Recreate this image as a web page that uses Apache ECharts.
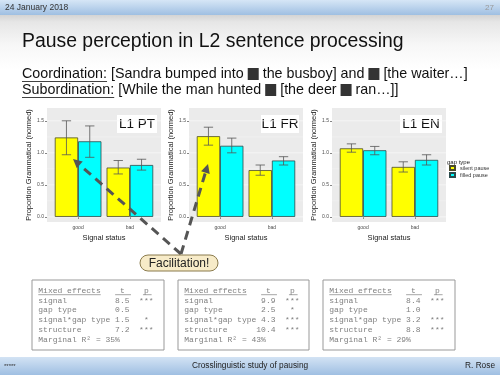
<!DOCTYPE html>
<html><head><meta charset="utf-8">
<script src="https://cdn.jsdelivr.net/npm/echarts@6/dist/echarts.min.js"></script>
<style>
html,body{margin:0;padding:0;}
#c{width:500px;height:375px;background:linear-gradient(to bottom,#d4d4d4 0px,#d4d4d4 15px,#e6e6e6 22px,#f7f7f7 45px,#ffffff 70px,#ffffff 100%);}
</style>
</head><body><div id="c"></div>
<script>
// ---- data ----
const categories = ['good', 'bad'];
const gapTypes = ['silent pause', 'filled pause'];
const panels = ['L1 PT', 'L1 FR', 'L1 EN'];
const silentMean = [[1.24, 0.77], [1.26, 0.73], [1.07, 0.78]];
const silentLow  = [[0.97, 0.67], [1.12, 0.65], [1.01, 0.70]];
const silentHigh = [[1.50, 0.88], [1.40, 0.81], [1.14, 0.86]];
const filledMean = [[1.18, 0.81], [1.11, 0.88], [1.04, 0.89]];
const filledLow  = [[0.93, 0.73], [1.00, 0.81], [0.97, 0.81]];
const filledHigh = [[1.42, 0.90], [1.23, 0.94], [1.10, 0.97]];
const yTicks = [0, 0.5, 1.0, 1.5];
const yTickLabels = ['0.0', '0.5', '1.0', '1.5'];
const yMinorTicks = [0.25, 0.75, 1.25];
const statsRows = ['signal', 'gap type', 'signal*gap type', 'structure'];
const statsT = [['8.5', '0.5', '1.5', '7.2'], ['9.9', '2.5', '4.3', '10.4'], ['8.4', '1.0', '3.2', '8.8']];
const statsP = [['***', '', '*', '***'], ['***', '*', '***', '***'], ['***', '', '***', '***']];
const marginalR2 = ['35%', '43%', '29%'];

// ---- layout ----
const SANS = "'Liberation Sans', Arial, sans-serif";
const MONO = "'Liberation Mono', 'DejaVu Sans Mono', monospace";
const bgLeft = [47, 189, 332];
const gTop = 108, gH = 114, bgW = 114, pad = 5.2;
const yMin = -0.08, yMax = 1.70;

const chart = echarts.init(document.getElementById('c'), null, {renderer: 'canvas'});

const grid = [], xAxis = [], yAxis = [], series = [];
for (let i = 0; i < 3; i++) {
  grid.push({left: bgLeft[i], top: gTop, width: bgW, height: gH, show: true, backgroundColor: '#ebebeb', borderWidth: 0});
  xAxis.push({gridIndex: i, type: 'value', min: 0, max: 1, show: false});
  yAxis.push({gridIndex: i, type: 'value', min: yMin, max: yMax,
    axisLine: {show: false},
    axisTick: {show: true, length: 2, customValues: yTicks, lineStyle: {color: '#333', width: 0.6}},
    axisLabel: {customValues: yTicks, fontSize: 5, color: '#4d4d4d', margin: 3, fontFamily: SANS,
      formatter: v => { const k = yTicks.findIndex(t => Math.abs(t - v) < 1e-6); return k >= 0 ? yTickLabels[k] : ''; }},
    splitLine: {show: false},
    name: 'Proportion Grammatical (normed)', nameLocation: 'middle', nameGap: 13,
    nameTextStyle: {fontSize: 7.5, color: '#222', fontFamily: SANS}
  });
  const gl = yTicks.map(v => [0, v, 0.8]).concat(yMinorTicks.map(v => [0, v, 0.4]));
  series.push({type: 'custom', xAxisIndex: i, yAxisIndex: i, silent: true, z: 1, data: gl,
    renderItem: (params, api) => {
      const cs = params.coordSys; const y = api.coord([0, api.value(1)])[1];
      return {type: 'line', shape: {x1: cs.x, y1: y, x2: cs.x + cs.width, y2: y}, style: {stroke: '#f8f8f8', lineWidth: api.value(2)}};
    }});
}
for (let i = 0; i < 3; i++) {
  const gi = 3 + i;
  grid.push({left: bgLeft[i] + pad, top: gTop, width: bgW - 2 * pad, height: gH});
  xAxis.push({gridIndex: gi, type: 'category', data: categories,
    axisLine: {show: false},
    axisTick: {show: true, alignWithLabel: true, length: 2, lineStyle: {color: '#333', width: 0.6}},
    axisLabel: {fontSize: 5, color: '#4d4d4d', margin: 3, fontFamily: SANS},
    name: 'Signal status', nameLocation: 'middle', nameGap: 12,
    nameTextStyle: {fontSize: 7.5, color: '#222', fontFamily: SANS}
  });
  yAxis.push({gridIndex: gi, type: 'value', min: yMin, max: yMax, show: false});
  series.push({name: gapTypes[0], type: 'bar', xAxisIndex: gi, yAxisIndex: gi, data: silentMean[i],
    barWidth: '45%', barGap: '0%', itemStyle: {color: '#ffff00', borderColor: '#4b4b2b', borderWidth: 0.8}});
  series.push({name: gapTypes[1], type: 'bar', xAxisIndex: gi, yAxisIndex: gi, data: filledMean[i],
    barWidth: '45%', barGap: '0%', itemStyle: {color: '#00ffff', borderColor: '#2b4b4b', borderWidth: 0.8}});
  const eb = [];
  for (let j = 0; j < categories.length; j++) {
    eb.push([j, silentLow[i][j], silentHigh[i][j], 0]);
    eb.push([j, filledLow[i][j], filledHigh[i][j], 1]);
  }
  series.push({type: 'custom', xAxisIndex: gi, yAxisIndex: gi, silent: true, z: 5, data: eb,
    renderItem: (params, api) => {
      const j = api.value(0); const bw = api.size([1, 0])[0];
      const cx = api.coord([j, 0])[0] + (api.value(3) === 0 ? -1 : 1) * bw * 0.225;
      const yl = api.coord([j, api.value(1)])[1], yh = api.coord([j, api.value(2)])[1];
      const h = bw * 0.09; const st = {stroke: '#555', lineWidth: 0.8};
      return {type: 'group', children: [
        {type: 'line', shape: {x1: cx, y1: yl, x2: cx, y2: yh}, style: st},
        {type: 'line', shape: {x1: cx - h, y1: yl, x2: cx + h, y2: yl}, style: st},
        {type: 'line', shape: {x1: cx - h, y1: yh, x2: cx + h, y2: yh}, style: st}
      ]};
    }});
}

// ---- text measuring ----
const mctx = document.createElement('canvas').getContext('2d');
function tw(txt, size, fam) { mctx.font = size + 'px ' + fam; return mctx.measureText(txt).width; }

const graphic = [];
// header bar
graphic.push({type: 'rect', shape: {x: 0, y: 0, width: 500, height: 15}, silent: true,
  style: {fill: new echarts.graphic.LinearGradient(0, 0, 0, 1, [{offset: 0, color: '#d6e6f6'}, {offset: 1, color: '#9fbfe2'}])}});
graphic.push({type: 'text', x: 5, y: 7.5, style: {text: '24 January 2018', fontSize: 8.5, fill: '#333', fontFamily: SANS, verticalAlign: 'middle'}});
graphic.push({type: 'text', x: 494, y: 7.5, style: {text: '27', fontSize: 8, fill: '#999', fontFamily: SANS, align: 'right', verticalAlign: 'middle'}});
// footer bar
graphic.push({type: 'rect', shape: {x: 0, y: 357, width: 500, height: 18}, silent: true,
  style: {fill: new echarts.graphic.LinearGradient(0, 0, 0, 1, [{offset: 0, color: '#d3e3f4'}, {offset: 1, color: '#9fbfe2'}])}});
graphic.push({type: 'text', x: 4, y: 366, style: {text: '*****', fontSize: 6, fill: '#333', fontFamily: SANS, verticalAlign: 'middle'}});
graphic.push({type: 'text', x: 250, y: 366, style: {text: 'Crosslinguistic study of pausing', fontSize: 8.3, fill: '#222', fontFamily: SANS, align: 'center', verticalAlign: 'middle'}});
graphic.push({type: 'text', x: 495, y: 366, style: {text: 'R. Rose', fontSize: 8.3, fill: '#222', fontFamily: SANS, align: 'right', verticalAlign: 'middle'}});
// title
graphic.push({type: 'text', x: 22, y: 42, style: {text: 'Pause perception in L2 sentence processing', fontSize: 19.4, fill: '#111', fontFamily: SANS, verticalAlign: 'middle'}});
// subtitle lines
const subSize = 14.3;
const sqStyle = {width: 11, height: 12, backgroundColor: '#333', fontSize: subSize};
function subLine(label, rest, y) {
  graphic.push({type: 'text', x: 22, y: y, style: {text: '{u|' + label + '}' + rest, fontSize: subSize, fill: '#111', fontFamily: SANS, verticalAlign: 'middle',
    rich: {u: {fontSize: subSize, fontFamily: SANS, fill: '#111'}, sq: sqStyle}}});
  const w = tw(label, subSize, SANS);
  graphic.push({type: 'line', shape: {x1: 22, y1: y + 7.5, x2: 22 + w, y2: y + 7.5}, style: {stroke: '#111', lineWidth: 0.8}});
}
subLine('Coordination:', ' [Sandra bumped into {sq| } the busboy] and {sq| } [the waiter…]', 74);
subLine('Subordination:', ' [While the man hunted {sq| } [the deer {sq| } ran…]]', 90);

// panel labels
const lblW = [40, 38, 42];
for (let i = 0; i < 3; i++) {
  const rx = bgLeft[i] + bgW - 4 - lblW[i];
  graphic.push({type: 'rect', shape: {x: rx, y: 115, width: lblW[i], height: 18}, style: {fill: '#fff'}});
  graphic.push({type: 'text', x: rx + lblW[i] / 2, y: 124.5, style: {text: panels[i], fontSize: 13.5, fill: '#111', fontFamily: SANS, align: 'center', verticalAlign: 'middle'}});
}
// legend title
graphic.push({type: 'text', x: 447, y: 162, style: {text: 'gap type', fontSize: 6, fill: '#222', fontFamily: SANS, verticalAlign: 'middle'}});

// arrows
function arrow(x0, y0, x1, y1) {
  const dx = x1 - x0, dy = y1 - y0, L = Math.hypot(dx, dy), ux = dx / L, uy = dy / L;
  const hl = 9, hw = 4.5;
  const bx = x1 - ux * hl, by = y1 - uy * hl;
  graphic.push({type: 'line', z: 20, shape: {x1: x0, y1: y0, x2: bx, y2: by}, style: {stroke: '#555', lineWidth: 3, lineDash: [9, 6]}});
  graphic.push({type: 'polygon', z: 20, shape: {points: [[x1, y1], [bx - uy * hw, by + ux * hw], [bx + uy * hw, by - ux * hw]]}, style: {fill: '#555'}});
}
arrow(181, 254, 73, 159);
arrow(181, 254, 208, 164);
graphic.push({type: 'rect', z: 21, shape: {x: 140, y: 255, width: 78, height: 16, r: 8}, style: {fill: '#f7ebc8', stroke: '#8a7a4c', lineWidth: 1}});
graphic.push({type: 'text', z: 22, x: 179, y: 263.5, style: {text: 'Facilitation!', fontSize: 12, fill: '#222', fontFamily: SANS, align: 'center', verticalAlign: 'middle'}});

// stats boxes
const boxX = [32, 178, 323], boxW = [132, 131, 132];
const cw = tw('M', 8, MONO);
for (let i = 0; i < 3; i++) {
  graphic.push({type: 'rect', shape: {x: boxX[i], y: 280, width: boxW[i], height: 70}, style: {fill: '#fff', stroke: '#999', lineWidth: 1}});
  const x0 = boxX[i] + 6.3;
  const ys = [290.7, 300.5, 310.3, 320.1, 329.9, 339.7];
  const tc = '#808080';
  graphic.push({type: 'text', x: x0, y: ys[0], style: {text: 'Mixed effects', fontSize: 8, fill: tc, fontFamily: MONO, verticalAlign: 'middle'}});
  graphic.push({type: 'text', x: x0 + 17 * cw, y: ys[0], style: {text: 't', fontSize: 8, fill: tc, fontFamily: MONO, verticalAlign: 'middle'}});
  graphic.push({type: 'text', x: x0 + 22 * cw, y: ys[0], style: {text: 'p', fontSize: 8, fill: tc, fontFamily: MONO, verticalAlign: 'middle'}});
  [[0, 13], [16, 19.3], [21.8, 23.6]].forEach(u => graphic.push({type: 'line', shape: {x1: x0 + u[0] * cw, y1: ys[0] + 4, x2: x0 + u[1] * cw, y2: ys[0] + 4}, style: {stroke: tc, lineWidth: 0.7}}));
  for (let r = 0; r < statsRows.length; r++) {
    const p = statsP[i][r];
    const line = statsRows[r].padEnd(15) + statsT[i][r].padStart(4) + '  ' + (p === '*' ? ' * ' : p);
    graphic.push({type: 'text', x: x0, y: ys[r + 1], style: {text: line, fontSize: 8, fill: tc, fontFamily: MONO, verticalAlign: 'middle'}});
  }
  graphic.push({type: 'text', x: x0, y: ys[5], style: {text: 'Marginal R² = ' + marginalR2[i], fontSize: 8, fill: tc, fontFamily: MONO, verticalAlign: 'middle'}});
}

chart.setOption({
  animation: false,
  backgroundColor: 'transparent',
  grid: grid, xAxis: xAxis, yAxis: yAxis, series: series,
  legend: {data: gapTypes, orient: 'vertical', left: 449, top: 165, padding: 0, itemWidth: 5, itemHeight: 4, itemGap: 1,
    icon: 'rect', textStyle: {fontSize: 5.5, color: '#333', fontFamily: SANS}},
  graphic: graphic
});
</script>
</body></html>
